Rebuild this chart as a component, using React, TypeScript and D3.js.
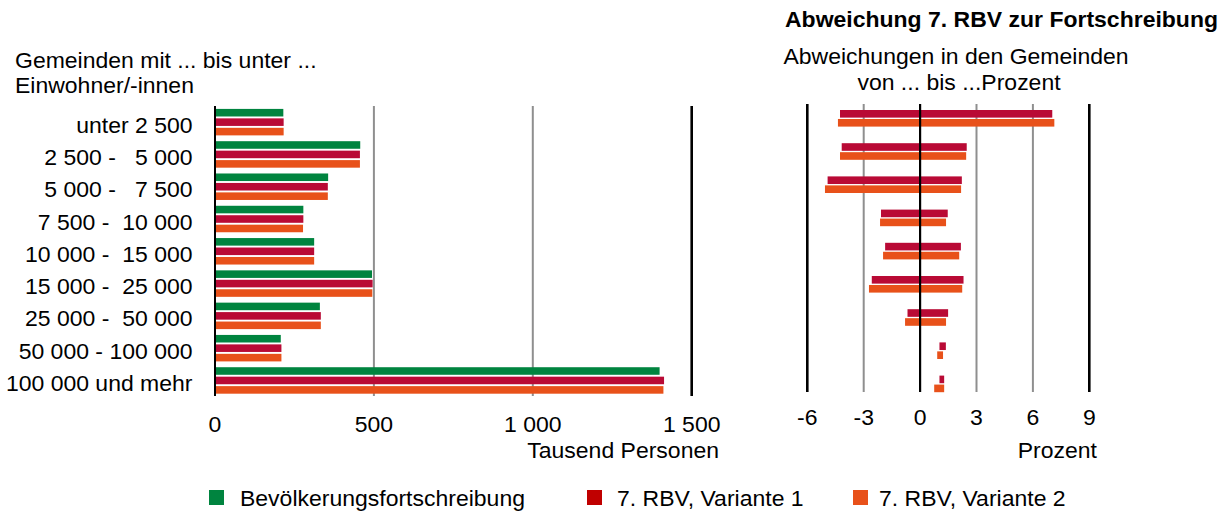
import React from 'react';
import * as d3 from 'd3';

const categories = [
  'unter 2 500',
  '2 500 -   5 000',
  '5 000 -   7 500',
  '7 500 -  10 000',
  '10 000 -  15 000',
  '15 000 -  25 000',
  '25 000 -  50 000',
  '50 000 - 100 000',
  '100 000 und mehr',
];
const seriesNames = ['Bevölkerungsfortschreibung', '7. RBV, Variante 1', '7. RBV, Variante 2'];
const fortschreibung = [215, 457, 356, 278, 312, 494, 330, 207, 1399];
const variante1 = [216, 456, 355, 278, 312, 496, 333, 209, 1413];
const variante2 = [216, 456, 355, 277, 312, 495, 333, 209, 1411];

const v1Min = [-4.26, -4.17, -4.92, -2.08, -1.86, -2.57, -0.67, 1.03, 1.03];
const v1Max = [7.03, 2.48, 2.22, 1.47, 2.17, 2.31, 1.49, 1.37, 1.28];
const v2Min = [-4.37, -4.26, -5.06, -2.13, -1.97, -2.72, -0.8, 0.91, 0.75];
const v2Max = [7.14, 2.45, 2.18, 1.38, 2.08, 2.24, 1.38, 1.22, 1.28];

const leftTicks = [0, 500, 1000, 1500];
const rightTicks = [-6, -3, 0, 3, 6, 9];

const barColors = ['#00843f', '#b90a35', '#e8511a'];
const legendColors = ['#00843f', '#c00000', '#e8511a'];

const FONT = '"Liberation Sans", Arial, sans-serif';
const FS = 22;
const SX = 1.045;

const fmt = d3
  .formatLocale({ decimal: ',', thousands: ' ', grouping: [3], currency: ['', ''], minus: '-' })
  .format(',');

type TP = {
  x: number;
  y: number;
  anchor?: 'start' | 'middle' | 'end';
  bold?: boolean;
  children: React.ReactNode;
};

function T({ x, y, anchor = 'start', bold = false, children }: TP) {
  return (
    <text
      transform={`translate(${x},${y}) scale(${SX},1)`}
      textAnchor={anchor}
      fontSize={FS}
      fontWeight={bold ? 'bold' : 'normal'}
      fill="#000"
      style={{ whiteSpace: 'pre' }}
    >
      {children}
    </text>
  );
}

export default function App() {
  // Left chart scales
  const xL = d3.scaleLinear().domain([0, 1500]).range([215, 691.7]);
  const yL = d3.scaleBand<string>().domain(categories).range([106, 396.6]).paddingInner(0.18).paddingOuter(0.09);
  const yLi = d3.scaleBand<number>().domain([0, 1, 2]).range([0, yL.bandwidth()]).paddingInner(0.2).paddingOuter(0);
  const leftSeries = [fortschreibung, variante1, variante2];

  // Right chart scales
  const xR = d3.scaleLinear().domain([-6, 9]).range([807.3, 1089.3]);
  const yR = d3.scaleBand<string>().domain(categories).range([101.7, 101.7 + 298.8]).paddingInner(0.5).paddingOuter(0.25);
  const yRi = d3.scaleBand<number>().domain([0, 1]).range([0, yR.bandwidth()]).paddingInner(0.15).paddingOuter(0);
  const rightSeries = [
    { min: v1Min, max: v1Max, color: barColors[1] },
    { min: v2Min, max: v2Max, color: barColors[2] },
  ];

  const leftLineStyle = (t: number) =>
    t === 0 ? { stroke: '#000', w: 2 } : t === 1500 ? { stroke: '#000', w: 2.6 } : { stroke: '#8f8f8f', w: 2 };
  const rightLineStyle = (t: number) =>
    t === -6 || t === 9 ? { stroke: '#000', w: 2.6 } : t === 0 ? { stroke: '#000', w: 2.2 } : { stroke: '#8f8f8f', w: 2 };

  const legendX = [209, 587, 853];
  const legendTextX = [240, 617, 879];

  return (
    <svg
      width={1232}
      height={512}
      style={{ position: 'absolute', left: 0, top: 0, background: '#fff' }}
      fontFamily={FONT}
    >
      {/* Titles */}
      <T x={1218} y={26.5} anchor="end" bold>
        Abweichung 7. RBV zur Fortschreibung
      </T>
      <T x={956} y={63.5} anchor="middle">
        Abweichungen in den Gemeinden
      </T>
      <T x={959} y={90} anchor="middle">
        von ... bis ...Prozent
      </T>
      <T x={15} y={68.3}>
        Gemeinden mit ... bis unter ...
      </T>
      <T x={15} y={93.3}>
        Einwohner/-innen
      </T>

      {/* Left chart grid */}
      {leftTicks.map((t) => {
        const s = leftLineStyle(t);
        return (
          <line key={'lg' + t} x1={xL(t)} x2={xL(t)} y1={106} y2={396} stroke={s.stroke} strokeWidth={s.w} />
        );
      })}

      {/* Left bars */}
      {categories.map((c, i) => (
        <g key={'lb' + i}>
          {leftSeries.map((vals, k) => (
            <rect
              key={k}
              x={xL(0) + 1}
              y={(yL(c) as number) + (yLi(k) as number)}
              width={xL(vals[i]) - xL(0) - 1}
              height={yLi.bandwidth()}
              fill={barColors[k]}
            />
          ))}
        </g>
      ))}

      {/* Category labels */}
      {categories.map((c) => (
        <T key={'cl' + c} x={192.5} y={(yL(c) as number) + yL.bandwidth() / 2 + 10.5} anchor="end">
          {c}
        </T>
      ))}

      {/* Left ticks */}
      {leftTicks.map((t) => (
        <T key={'lt' + t} x={xL(t)} y={432} anchor="middle">
          {fmt(t)}
        </T>
      ))}
      <T x={719} y={458} anchor="end">
        Tausend Personen
      </T>

      {/* Right grid (non-zero) */}
      {rightTicks
        .filter((t) => t !== 0)
        .map((t) => {
          const s = rightLineStyle(t);
          return (
            <line key={'rg' + t} x1={xR(t)} x2={xR(t)} y1={104} y2={392} stroke={s.stroke} strokeWidth={s.w} />
          );
        })}

      {/* Right bars */}
      {categories.map((c, i) => (
        <g key={'rb' + i}>
          {rightSeries.map((s, k) => (
            <rect
              key={k}
              x={xR(s.min[i])}
              y={(yR(c) as number) + (yRi(k) as number)}
              width={xR(s.max[i]) - xR(s.min[i])}
              height={yRi.bandwidth()}
              fill={s.color}
            />
          ))}
        </g>
      ))}

      {/* Right zero line on top */}
      <line x1={xR(0)} x2={xR(0)} y1={104} y2={392} stroke="#000" strokeWidth={rightLineStyle(0).w} />

      {/* Right ticks */}
      {rightTicks.map((t) => (
        <T key={'rt' + t} x={xR(t)} y={424.5} anchor="middle">
          {String(t)}
        </T>
      ))}
      <T x={1097} y={458.3} anchor="end">
        Prozent
      </T>

      {/* Legend */}
      {seriesNames.map((n, k) => (
        <g key={'lg' + n}>
          <rect x={legendX[k]} y={490} width={15} height={15} fill={legendColors[k]} />
          <T x={legendTextX[k]} y={506}>
            {n}
          </T>
        </g>
      ))}
    </svg>
  );
}
